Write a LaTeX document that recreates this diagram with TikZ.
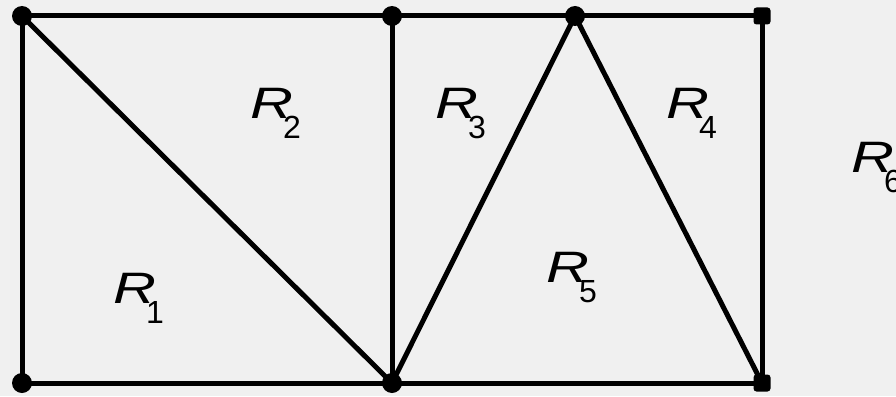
\documentclass[tikz,border=0pt]{standalone}
\usepackage{fontspec}
\setmainfont{Liberation Sans}
\definecolor{bg}{HTML}{F0F0F0}
\newcommand{\reglab}[1]{\fontsize{44}{44}\selectfont\scalebox{1.35}[1]{\textit{R}}\kern-10pt\raisebox{-20pt}{\fontsize{32}{32}\selectfont #1}}
\begin{document}
\begin{tikzpicture}[x=1pt,y=-1pt,
  edge/.style={line width=5pt,line cap=round},
  vtx/.style={circle,fill=black,inner sep=0pt,minimum size=20pt},
  vsq/.style={rectangle,rounded corners=3pt,fill=black,inner sep=0pt,minimum size=17pt},
  lab/.style={anchor=base west,inner sep=0pt}]
\fill[bg] (0,0) rectangle (896,396);
\useasboundingbox (0,0) rectangle (896,396);
\coordinate (a) at (22,16);
\coordinate (b) at (392,16);
\coordinate (c) at (575,16);
\coordinate (d) at (762,16);
\coordinate (e) at (22,383);
\coordinate (f) at (392,383);
\coordinate (g) at (762,383);
\draw[edge] (a) -- (d) -- (g) -- (e) -- cycle;
\draw[edge] (a) -- (f);
\draw[edge] (b) -- (f);
\draw[edge] (f) -- (c) -- (g);
\node[vtx] (va) at (a) {};
\node[vtx] (vb) at (b) {};
\node[vtx] (vc) at (c) {};
\node[vsq] (vd) at (d) {};
\node[vtx] (ve) at (e) {};
\node[vtx] (vf) at (f) {};
\node[vsq] (vg) at (g) {};
\node[lab] (r1) at (113,303) {\reglab{1}};
\node[lab] (r2) at (250,118) {\reglab{2}};
\node[lab] (r3) at (435,118) {\reglab{3}};
\node[lab] (r4) at (666,118) {\reglab{4}};
\node[lab] (r5) at (546,282) {\reglab{5}};
\node[lab] (r6) at (851,172) {\reglab{6}};
\end{tikzpicture}
\end{document}
